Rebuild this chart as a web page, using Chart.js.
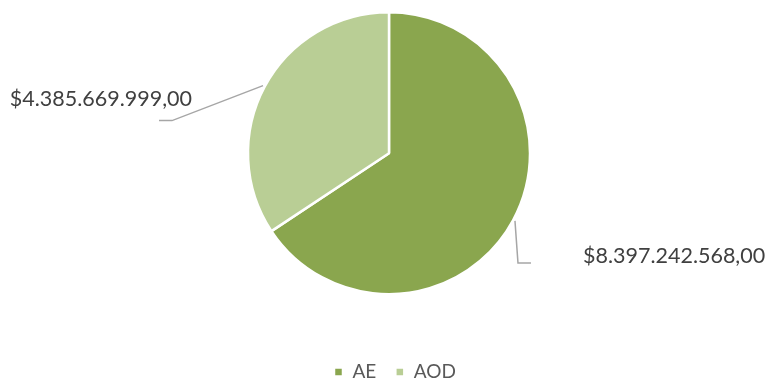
<!DOCTYPE html>
<html>
<head>
<meta charset="utf-8">
<script src="https://cdn.jsdelivr.net/npm/chart.js@4"></script>
<style>
html,body{margin:0;padding:0;background:#fff;}
#wrap{width:766px;height:381px;position:relative;}
</style>
</head>
<body>
<div id="wrap"><canvas id="c" width="766" height="381"></canvas></div>
<script>
const categories = ["AE", "AOD"];
const values = [8397242568.00, 4385669999.00];
const valueLabels = ["$8.397.242.568,00", "$4.385.669.999,00"];
const colors = ["#8AA64E", "#B9CE95"];

const FONT = "Lato, 'Open Sans', sans-serif";

const legendShift = {
  id: 'legendShift',
  afterLayout(chart) {
    const lg = chart.legend;
    if (!lg) return;
    lg.top += 48; lg.bottom += 48;
    lg.left += 6; lg.right += 6;
  }
};

const labelPlugin = {
  id: 'leaderLabels',
  afterDatasetsDraw(chart) {
    const ctx = chart.ctx;
    const meta = chart.getDatasetMeta(0);
    ctx.save();
    meta.data.forEach((arc, i) => {
      const p = arc.getProps(['x','y','startAngle','endAngle','outerRadius'], true);
      const mid = (p.startAngle + p.endAngle) / 2;
      const r = p.outerRadius + 2;
      const ax = p.x + Math.cos(mid) * r;
      const ay = p.y + Math.sin(mid) * r;
      ctx.strokeStyle = '#A6A6A6';
      ctx.lineWidth = 1.5;
      ctx.beginPath();
      ctx.moveTo(ax, ay);
      ctx.fillStyle = '#404040';
      ctx.font = "21.5px " + FONT;
      ctx.textBaseline = 'middle';
      if (Math.cos(mid) >= 0) {
        const ex = ax + 3, ey = ay + 42;
        ctx.lineTo(ex, ey);
        ctx.lineTo(ex + 13, ey);
        ctx.stroke();
        ctx.textAlign = 'left';
        ctx.fillText(valueLabels[i], ex + 65, ey - 7);
      } else {
        const ex = ax - 91, ey = ay + 35;
        ctx.lineTo(ex, ey);
        ctx.lineTo(ex - 13, ey);
        ctx.stroke();
        ctx.textAlign = 'right';
        ctx.fillText(valueLabels[i], ex + 20, ey - 22);
      }
    });
    ctx.restore();
  }
};

new Chart(document.getElementById('c'), {
  type: 'pie',
  data: {
    labels: categories,
    datasets: [{
      data: values,
      backgroundColor: colors,
      borderColor: '#ffffff',
      borderWidth: 2.5
    }]
  },
  options: {
    responsive: false,
    animation: false,
    layout: { padding: { top: 11, left: 12, right: 0, bottom: 37.5 } },
    plugins: {
      tooltip: { enabled: false },
      legend: {
        position: 'bottom',
        labels: {
          boxWidth: 9,
          boxHeight: 9,
          padding: 19,
          color: '#595959',
          font: { family: FONT, size: 19 }
        }
      }
    }
  },
  plugins: [legendShift, labelPlugin]
});
</script>
</body>
</html>
